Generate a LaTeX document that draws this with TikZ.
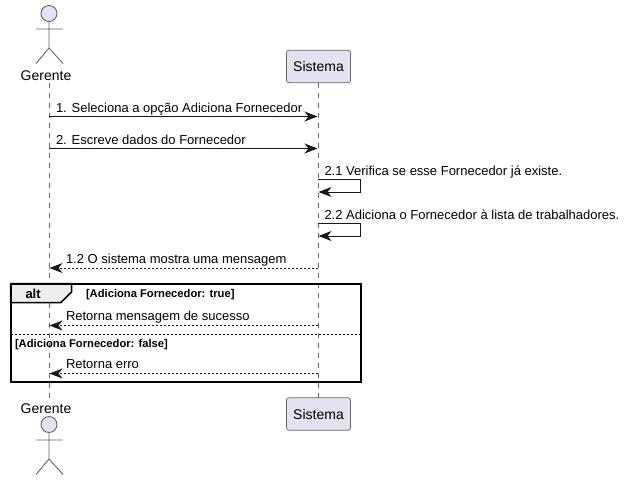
\documentclass[tikz,border=0pt]{standalone}
\usepackage{fontspec}
\setmainfont{Liberation Sans}
\usetikzlibrary{arrows.meta}
\definecolor{partfill}{HTML}{E2E2F0}
\definecolor{ink}{HTML}{181818}
\definecolor{lifecol}{HTML}{666666}
\definecolor{tabfill}{HTML}{EEEEEE}
\tikzset{
  txt/.style={inner sep=0pt,outer sep=0pt,anchor=base west,text=black},
  msgtxt/.style={txt,font=\fontsize{13}{15}\selectfont},
  guardtxt/.style={txt,font=\fontsize{11.2}{13}\selectfont\bfseries},
  namelabel/.style={inner sep=0pt,outer sep=0pt,anchor=base,font=\fontsize{14}{16}\selectfont},
  partbox/.style={draw=lifecol,fill=partfill,rounded corners=2.5pt,line width=0.7pt,minimum width=64pt,minimum height=32.5pt,inner sep=0pt,outer sep=0pt},
  lifeline/.style={draw=lifecol,line width=0.7pt,dash pattern=on 5pt off 5pt},
  msg/.style={draw=ink,line width=1pt,-{Stealth[length=13pt,width=10pt,inset=4pt,fill=ink]}},
  reply/.style={msg,line width=0.8pt,dash pattern=on 2pt off 2pt},
  stick/.style={draw=lifecol,line width=0.9pt},
  head/.style={circle,draw=lifecol,fill=partfill,line width=0.9pt,minimum size=16pt,inner sep=0pt,outer sep=0pt},
  frameline/.style={draw=black,line width=2pt},
}
\begin{document}
\begin{tikzpicture}[x=1pt,y=-1pt]
\useasboundingbox (0,0) rectangle (626,480);
\fill[white] (0,0) rectangle (626,480);
% participants
\node[partbox] (sistop) at (318.5,66.5) {};
\node[partbox] (sisbot) at (318.5,414) {};
\node[namelabel] (sisTopLabel) at (318.5,71) {Sistema};
\node[namelabel] (sisBotLabel) at (318.5,419) {Sistema};
\node[namelabel] (gerTop) at (46,80) {Gerente};
\node[namelabel] (gerBot) at (46,413) {Gerente};
\coordinate (gerA) at (49,83);
\coordinate (gerB) at (49,398);
\draw[lifeline] (gerA) -- (gerB);
\draw[lifeline] (sistop.south) -- (sisbot.north);
% actors
\node[head] (headTop) at (49,13.5) {};
\coordinate (crotchTop) at (49,48);
\coordinate (armLTop) at (36,29); \coordinate (armRTop) at (63,29);
\coordinate (legLTop) at (36,63.5); \coordinate (legRTop) at (63,63.5);
\draw[stick] (headTop.south) -- (crotchTop) (armLTop) -- (armRTop) (legLTop) -- (crotchTop) -- (legRTop);
\node[head] (headBot) at (49,424.5) {};
\coordinate (crotchBot) at (49,459);
\coordinate (armLBot) at (36,440); \coordinate (armRBot) at (63,440);
\coordinate (legLBot) at (36,474.5); \coordinate (legRBot) at (63,474.5);
\draw[stick] (headBot.south) -- (crotchBot) (armLBot) -- (armRBot) (legLBot) -- (crotchBot) -- (legRBot);
% message anchors
\coordinate (g1) at (49,116.5); \coordinate (s1) at (317.5,116.5);
\coordinate (g2) at (49,148.5); \coordinate (s2) at (317.5,148.5);
\coordinate (g3) at (49.5,268); \coordinate (s3) at (318,268);
\coordinate (g4) at (49.5,325.5); \coordinate (s4) at (318,325.5);
\coordinate (g5) at (49.5,373.5); \coordinate (s5) at (318,373.5);
\coordinate (a1) at (318,179.5); \coordinate (a2) at (360.5,179.5); \coordinate (a3) at (360.5,192); \coordinate (a4) at (318.5,192);
\coordinate (b1) at (318,223.5); \coordinate (b2) at (360.5,223.5); \coordinate (b3) at (360.5,236); \coordinate (b4) at (318.5,236);
% messages
\draw[msg] (g1) -- (s1);
\draw[msg] (g2) -- (s2);
\draw[msg] (a1) -- (a2) -- (a3) -- (a4);
\draw[msg] (b1) -- (b2) -- (b3) -- (b4);
\draw[reply] (s3) -- (g3);
\draw[reply] (s4) -- (g4);
\draw[reply] (s5) -- (g5);
\node[msgtxt] (t1) at (56,112) {1. Seleciona a opção Adiciona Fornecedor};
\node[msgtxt] (t2) at (56,144) {2. Escreve dados do Fornecedor};
\node[msgtxt] (t3) at (324.5,175) {2.1 Verifica se esse Fornecedor já existe.};
\node[msgtxt] (t4) at (324.5,219) {2.2 Adiciona o Fornecedor à lista de trabalhadores.};
\node[msgtxt] (t5) at (66,263) {1.2 O sistema mostra uma mensagem};
\node[msgtxt] (t6) at (66,320) {Retorna mensagem de sucesso};
\node[msgtxt] (t7) at (66,368) {Retorna erro};
% alt frame
\coordinate (f1) at (10.5,283.5); \coordinate (f2) at (360.5,283.5); \coordinate (f3) at (360.5,381.5); \coordinate (f4) at (10.5,381.5);
\coordinate (tabA) at (71.5,283.5); \coordinate (tabB) at (71.5,292); \coordinate (tabC) at (61,302.5); \coordinate (tabD) at (10.5,302.5);
\coordinate (divL) at (10.5,334); \coordinate (divR) at (360.5,334);
\draw[draw=black,fill=tabfill,line width=1.5pt] (f1) -- (tabA) -- (tabB) -- (tabC) -- (tabD) -- cycle;
\draw[frameline] (f1) -- (f2) -- (f3) -- (f4) -- cycle;
\draw[draw=black,line width=0.8pt,dash pattern=on 2pt off 2pt] (divL) -- (divR);
\node[txt,font=\fontsize{13}{15}\selectfont\bfseries] (altlabel) at (25.5,298) {alt};
\node[guardtxt] (g6) at (86,297.5) {[Adiciona Fornecedor: true]};
\node[guardtxt] (g7) at (15,347) {[Adiciona Fornecedor: false]};
\end{tikzpicture}
\end{document}
